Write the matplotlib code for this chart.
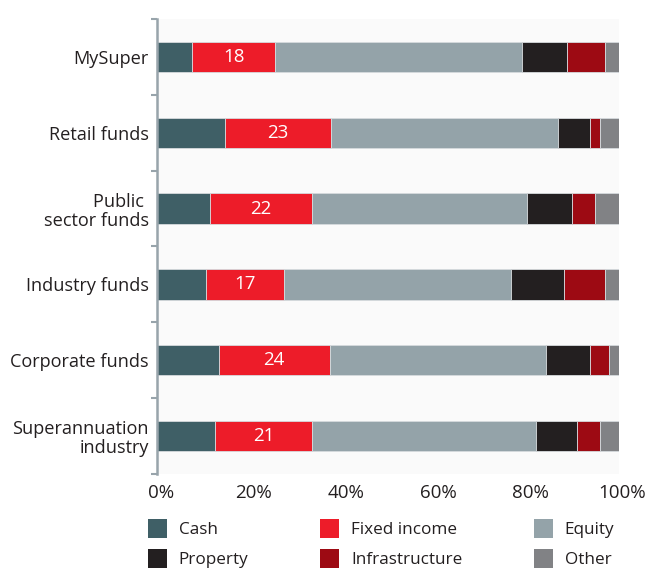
import numpy as np
import matplotlib.pyplot as plt
from matplotlib.patches import Patch
from matplotlib.transforms import ScaledTranslation

plt.rcParams["font.family"] = ["Open Sans", "DejaVu Sans"]

# ---------------------------------------------------------
# Asset allocation by fund type (% of total assets)
# ---------------------------------------------------------
CATEGORIES = [
    "MySuper",
    "Retail funds",
    "Public \nsector funds",
    "Industry funds",
    "Corporate funds",
    "Superannuation\nindustry",
]

CASH = [7.6, 14.7, 11.5, 10.6, 13.4, 12.6]
FIXED_INCOME = [18, 23, 22, 17, 24, 21]
EQUITY = [53.4, 49.2, 46.6, 49.2, 46.8, 48.5]
PROPERTY = [9.8, 7.0, 9.8, 11.3, 9.7, 9.0]
INFRASTRUCTURE = [8.2, 2.0, 5.1, 8.9, 4.1, 4.9]
OTHER = [3.0, 4.1, 5.0, 3.0, 2.0, 4.0]

SERIES = [
    ("Cash", CASH, "#3f5f66"),
    ("Fixed income", FIXED_INCOME, "#ed1c29"),
    ("Equity", EQUITY, "#94a3a9"),
    ("Property", PROPERTY, "#231f20"),
    ("Infrastructure", INFRASTRUCTURE, "#9d0a13"),
    ("Other", OTHER, "#818285"),
]

XTICKS = [0, 20, 40, 60, 80, 100]
XTICK_LABELS = ["0%", "20%", "40%", "60%", "80%", "100%"]

TEXT_COLOR = "#231f20"
SPINE_COLOR = "#98a4ab"

W, H = 651, 569
fig = plt.figure(figsize=(W / 100, H / 100), dpi=100)
ax = fig.add_axes([157 / W, 1 - 474 / H, (618.5 - 157) / W, (474 - 19) / H])
ax.set_facecolor("#fafafa")

y = np.arange(len(CATEGORIES))
left = np.zeros(len(CATEGORIES))
for name, values, color in SERIES:
    vals = np.array(values, dtype=float)
    ax.barh(y, vals, left=left, height=0.4, color=color,
            edgecolor="#d6dadd", linewidth=0.6, label=name)
    if name == "Fixed income":
        for yi, l, v in zip(y, left, vals):
            ax.text(l + v / 2, yi, f"{v:.0f}", ha="center", va="center",
                    color="white", fontsize=13.5)
    left += vals

ax.set_xlim(0, 100)
ax.set_ylim(len(CATEGORIES) - 0.5, -0.5)

ax.set_yticks(y)
ax.set_yticklabels(CATEGORIES, fontsize=13.1, color=TEXT_COLOR,
                   linespacing=1.1)
ax.set_yticks(np.arange(-0.5, len(CATEGORIES)), minor=True)
ax.tick_params(axis="y", which="major", length=0, pad=6)
ax.tick_params(axis="y", which="minor", length=4, width=1.5, color=SPINE_COLOR)

ax.set_xticks(XTICKS)
ax.set_xticklabels(XTICK_LABELS, fontsize=13.5, color=TEXT_COLOR)
ax.tick_params(axis="x", length=0, pad=7)
shift = ScaledTranslation(4 / 100, 0, fig.dpi_scale_trans)
for lbl in ax.get_xticklabels():
    lbl.set_transform(lbl.get_transform() + shift)

for side in ["top", "right", "bottom"]:
    ax.spines[side].set_visible(False)
ax.spines["left"].set_color(SPINE_COLOR)
ax.spines["left"].set_linewidth(1.8)

# legend filled column-wise: Cash/Property, Fixed income/Infrastructure, Equity/Other
order = [0, 3, 1, 4, 2, 5]
handles = [Patch(facecolor=SERIES[i][2], label=SERIES[i][0]) for i in order]
fig.legend(handles=handles, ncol=3, loc="upper left",
           bbox_to_anchor=(148 / W, 1 - 519 / H), frameon=False,
           fontsize=12.3, labelcolor=TEXT_COLOR, handlelength=1.1,
           handleheight=1.3, handletextpad=0.7, columnspacing=4.2,
           labelspacing=0.65, borderpad=0, borderaxespad=0)

fig.savefig("out.png", dpi=100, facecolor="white")
